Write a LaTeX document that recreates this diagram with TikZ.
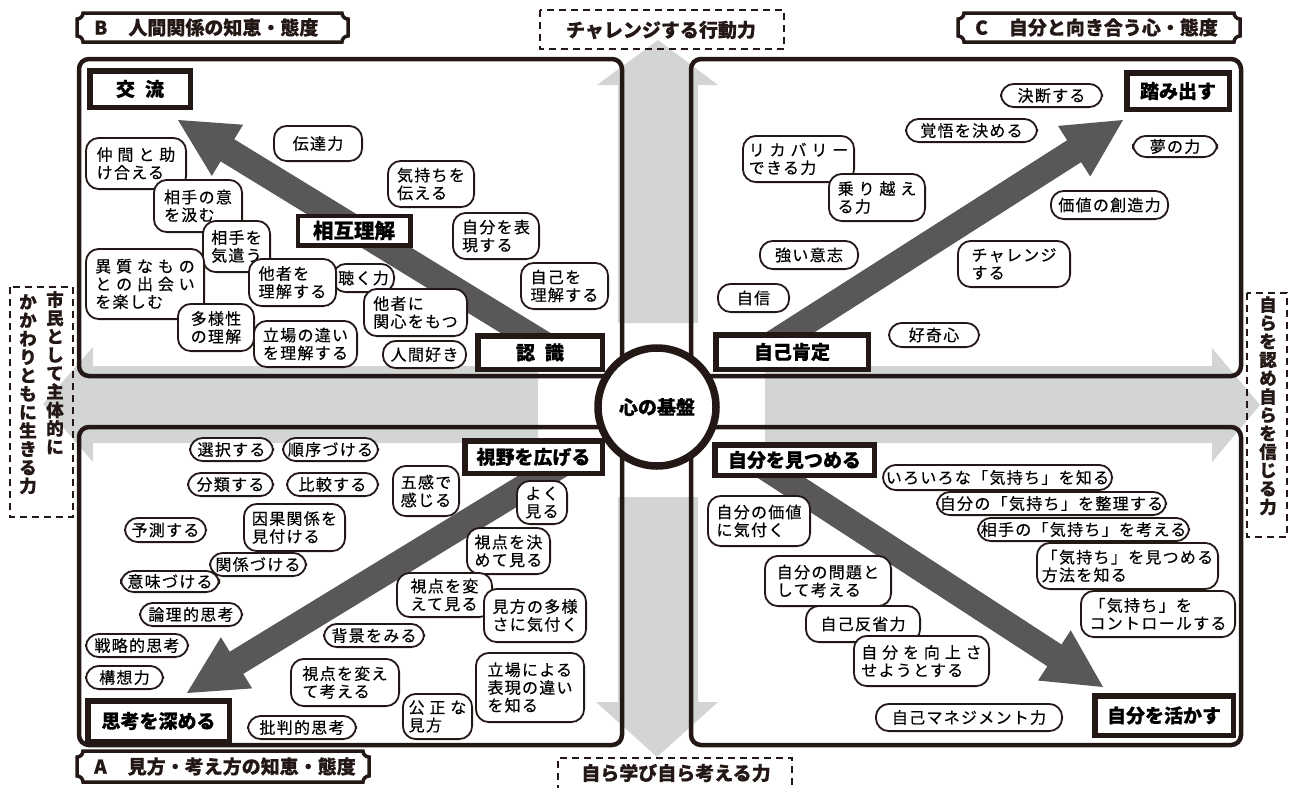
\documentclass[tikz,border=0pt]{standalone}
\usepackage{fontspec}
\usetikzlibrary{calc}
\newfontfamily\jp[LetterSpace=8,FakeBold=0.35]{Noto Sans CJK JP}
\newfontfamily\jpb[BoldFeatures={FakeBold=0.5}]{Noto Sans CJK JP}
\definecolor{ink}{HTML}{231815}
\definecolor{crossgray}{HTML}{D3D5D5}
\definecolor{arrowgray}{HTML}{595757}
\newcommand\labfont{\jp\fontsize{16}{17.8}\selectfont}
\newcommand\mainfont{\jpb\bfseries\fontsize{19}{21}\selectfont}
\newcommand\titfont{\jpb\bfseries\fontsize{19}{21}\selectfont}
\newcommand\vfont{\jpb\bfseries\fontsize{17.5}{18.4}\selectfont}
\newcommand\lab[7][]{\pgfmathsetmacro\labw{#5-#3-1.8}\pgfmathsetmacro\labh{#6-#4-1.8}%
  \node[lab,minimum width=\labw pt,minimum height=\labh pt,#1] (#2) at ({(#3+#5)/2},{(#4+#6)/2}) {#7};}
\newcommand\mainlab[7][]{\pgfmathsetmacro\labw{#5-#3-5.5}\pgfmathsetmacro\labh{#6-#4-5.5}%
  \node[mainbox,minimum width=\labw pt,minimum height=\labh pt,#1] (#2) at ({(#3+#5)/2},{(#4+#6)/2}) {#7};}
\newcommand\fatarrow[2]{%
  \coordinate (fa-b) at ($(#2)!58pt!(#1)$);
  \fill[arrowgray] ($(#1)!13pt!90:(#2)$) -- ($(fa-b)!13pt!90:(#2)$) -- ($(fa-b)!30pt!90:(#2)$) -- (#2)
    -- ($(fa-b)!30pt!-90:(#2)$) -- ($(fa-b)!13pt!-90:(#2)$) -- ($(#1)!13pt!-90:(#2)$) -- cycle;}
\newcommand\titlebox[6]{%
  \draw[tbox] ({#2},{#3+6}) .. controls ({#2+3.3},{#3+6}) and ({#2+6},{#3+3.3}) .. ({#2+6},{#3})
    -- ({#4-6},{#3}) .. controls ({#4-6},{#3+3.3}) and ({#4-3.3},{#3+6}) .. ({#4},{#3+6})
    -- ({#4},{#5-6}) .. controls ({#4-3.3},{#5-6}) and ({#4-6},{#5-3.3}) .. ({#4-6},{#5})
    -- ({#2+6},{#5}) .. controls ({#2+6},{#5-3.3}) and ({#2+3.3},{#5-6}) .. ({#2},{#5-6}) -- cycle;
  \node[ttext,anchor=west] (#1) at ({#2+17},{(#3+#5)/2}) {#6};}
\begin{document}
\begin{tikzpicture}[x=1pt,y=-1pt,
  lab/.style={draw=ink,line width=1.8pt,fill=white,rounded corners=13pt,align=left,inner sep=2pt,font=\labfont},
  mainbox/.style={draw=ink,line width=5.5pt,fill=white,inner sep=2pt,font=\mainfont},
  quad/.style={draw=ink,line width=4.5pt,rounded corners=10pt},
  dbox/.style={draw=ink,line width=1.8pt,dash pattern=on 7pt off 5pt},
  tbox/.style={draw=ink,line width=3.5pt,fill=white},
  ttext/.style={inner sep=0pt,font=\titfont,text=ink},
  dtext/.style={inner sep=0pt,font=\titfont,text=ink},
  vtext/.style={inner sep=0pt,align=center,font=\vfont,text=ink},
]
\useasboundingbox (0,0) rectangle (1292,787);
% gray cross of arrows
\fill[crossgray] (618,323) -- (618,85) -- (597,85) -- (658,40) -- (718,85) -- (698,85) -- (698,323) -- cycle;
\fill[crossgray] (618,497) -- (618,702) -- (596,702) -- (657,757) -- (718,702) -- (698,702) -- (698,497) -- cycle;
\fill[crossgray] (538,366) -- (93,366) -- (93,347) -- (43,404) -- (93,462) -- (93,443) -- (538,443) -- cycle;
\fill[crossgray] (765,366) -- (1212,366) -- (1212,348) -- (1260,405) -- (1212,462) -- (1212,443) -- (765,443) -- cycle;
% quadrants
\draw[quad] (79,59) rectangle (622,376);
\draw[quad] (691,59) rectangle (1241,376);
\draw[quad] (79,427) rectangle (622,745);
\draw[quad] (691,427) rectangle (1241,745);
% arrow ends
\coordinate (tl-tail) at (555,351);
\coordinate (tl-tip) at (178,120);
\coordinate (tr-tail) at (761,351);
\coordinate (tr-tip) at (1123,120);
\coordinate (bl-tail) at (572,458);
\coordinate (bl-tip) at (187,693);
\coordinate (br-tail) at (754,460);
\coordinate (br-tip) at (1103,687);
\fatarrow{tl-tail}{tl-tip}
\fatarrow{tr-tail}{tr-tip}
\fatarrow{bl-tail}{bl-tip}
\fatarrow{br-tail}{br-tip}
% TL labels
\lab{tl-nakama}{85}{137}{187}{190}{仲 間 と 助\\け合える}
\lab{tl-kumu}{153}{179}{243}{233}{相手の意\\を汲む}
\lab{tl-kizukau}{202}{220}{271}{273}{相手を\\気遣う}
\lab{tl-ishitsu}{85}{248}{205}{320}{異 質 な も の\\と の 出 会 い\\を楽しむ}
\lab{tl-kiku}{332}{263}{395}{293}{聴く力}
\lab{tl-tasha}{248}{258}{337}{307}{他者を\\理解する}
\lab{tl-kanshin}{363}{288}{468}{337}{他者に\\関心をもつ}
\lab{tl-tayou}{177}{303}{255}{352}{多様性\\の理解}
\lab{tl-tachiba}{253}{320}{358}{368}{立場の違い\\を理解する}
\lab{tl-ningen}{382}{340}{467}{369}{人間好き}
\lab{tl-dentatsu}{273}{125}{363}{162}{伝達力}
\lab{tl-tsutaeru}{387}{160}{475}{208}{気持ちを\\伝える}
\lab{tl-hyougen}{452}{212}{540}{260}{自分を表\\現する}
\lab{tl-jiko}{520}{262}{609}{310}{自己を\\理解する}
% TR labels
\lab{tr-kettan}{1000}{83}{1103}{108}{決断する}
\lab{tr-kakugo}{905}{118}{1038}{143}{覚悟を決める}
\lab{tr-yume}{1132}{135}{1218}{158}{夢の力}
\lab{tr-recovery}{742}{135}{855}{183}{リ カ バ リ ー\\できる力}
\lab{tr-norikoe}{828}{173}{926}{222}{乗 り 越 え\\る力}
\lab{tr-souzou}{1050}{190}{1169}{220}{価値の創造力}
\lab{tr-ishi}{759}{240}{859}{270}{強い意志}
\lab{tr-challenge}{957}{240}{1071}{288}{チャレンジ\\する}
\lab{tr-jishin}{717}{283}{790}{313}{自信}
\lab{tr-koukishin}{888}{322}{980}{348}{好奇心}
% BL labels
\lab{bl-sentaku}{189}{437}{274}{462}{選択する}
\lab{bl-junjo}{282}{437}{379}{462}{順序づける}
\lab{bl-bunrui}{187}{472}{274}{497}{分類する}
\lab{bl-hikaku}{286}{472}{379}{497}{比較する}
\lab{bl-gokan}{392}{465}{460}{517}{五感で\\感じる}
\lab[align=center]{bl-yoku}{516}{480}{568}{525}{よく\\見る}
\lab{bl-yosoku}{124}{517}{207}{543}{予測する}
\lab{bl-inga}{243}{503}{346}{552}{因果関係を\\見付ける}
\lab{bl-kimete}{466}{527}{551}{575}{視点を決\\めて見る}
\lab{bl-kankei}{209}{552}{307}{577}{関係づける}
\lab{bl-imi}{120}{570}{220}{593}{意味づける}
\lab{bl-kaete}{396}{572}{493}{618}{視点を変\\えて見る}
\lab{bl-tayousa}{483}{588}{587}{643}{見方の多様\\さに気付く}
\lab{bl-ronri}{139}{602}{243}{627}{論理的思考}
\lab{bl-haikei}{323}{623}{425}{648}{背景をみる}
\lab{bl-senryaku}{85}{633}{189}{658}{戦略的思考}
\lab{bl-kousou}{85}{665}{164}{690}{構想力}
\lab{bl-kangaeru}{290}{658}{400}{707}{視点を変え\\て考える}
\lab{bl-tachiba}{475}{652}{585}{723}{立場による\\表現の違い\\を知る}
\lab{bl-kousei}{402}{693}{473}{740}{公 正 な\\見方}
\lab{bl-hihan}{247}{715}{357}{740}{批判的思考}
% BR labels
\lab{br-iroiro}{882}{464}{1113}{491}{いろいろな「気持ち」を知る}
\lab{br-seiri}{936}{491}{1167}{516}{自分の「気持ち」を整理する}
\lab{br-aite}{977}{517}{1190}{542}{相手の「気持ち」を考える}
\lab{br-houhou}{1036}{542}{1219}{590}{「気持ち」を見つめる\\方法を知る}
\lab{br-control}{1080}{590}{1236}{638}{「気持ち」を\\コントロールする}
\lab{br-kachi}{707}{495}{811}{547}{自分の価値\\に気付く}
\lab{br-mondai}{764}{555}{892}{607}{自分の問題と\\して考える}
\lab{br-hansei}{805}{605}{921}{643}{自己反省力}
\lab{br-koujou}{853}{635}{990}{687}{自 分 を 向 上 さ\\せようとする}
\lab{br-manage}{875}{703}{1063}{732}{自己マネジメント力}
% main boxes
\mainlab{kouryu}{87}{68}{193}{110}{交\hspace{10pt}流}
\mainlab[line width=4.5pt,font=\jpb\bfseries\fontsize{20.5}{22}\selectfont]{sougo}{295}{213}{413}{248}{相互理解}
\mainlab{ninshiki}{475}{333}{605}{372}{認\hspace{10pt}識}
\mainlab{fumidasu}{1124}{70}{1232}{112}{踏み出す}
\mainlab{koutei}{713}{332}{871}{372}{自己肯定}
\mainlab{shiya}{462}{438}{605}{476}{視野を広げる}
\mainlab{shikou}{85}{698}{232}{744}{思考を深める}
\mainlab{mitsumeru}{712}{442}{877}{478}{自分を見つめる}
\mainlab{ikasu}{1092}{693}{1236}{738}{自分を活かす}
% center circle
\node[circle,draw=ink,line width=7.5pt,fill=white,minimum size=118pt,inner sep=0pt,font=\mainfont] (kiban) at (657,407) {心の基盤};
% title boxes
\titlebox{title-b}{77}{13}{348}{42}{B\hspace{21pt}人間関係の知恵・態度}
\titlebox{title-c}{958}{13}{1240}{42}{C\hspace{21pt}自分と向き合う心・態度}
\titlebox{title-a}{77}{751}{369}{782}{A\hspace{21pt}見方・考え方の知恵・態度}
% dashed boxes
\draw[dbox] (540,10) rectangle (784,49);
\node[dtext] (challenge) at (661,30) {チャレンジする行動力};
\draw[dbox] (558,792) -- (558,758) -- (792,758) -- (792,792);
\node[dtext] (manabi) at (676,773) {自ら学び自ら考える力};
\draw[dbox] (10,287) rectangle (73,517);
\node[vtext,anchor=north] (shimin-a) at (55,291) {市\\民\\と\\し\\て\\主\\体\\的\\に};
\node[vtext,anchor=north] (shimin-b) at (28,294) {か\\か\\わ\\り\\と\\も\\に\\生\\き\\る\\力};
\draw[dbox] (1247,293) rectangle (1287,537);
\node[vtext,anchor=north] (mizukara) at (1268,296) {自\\ら\\を\\認\\め\\自\\ら\\を\\信\\じ\\る\\力};
\end{tikzpicture}
\end{document}
